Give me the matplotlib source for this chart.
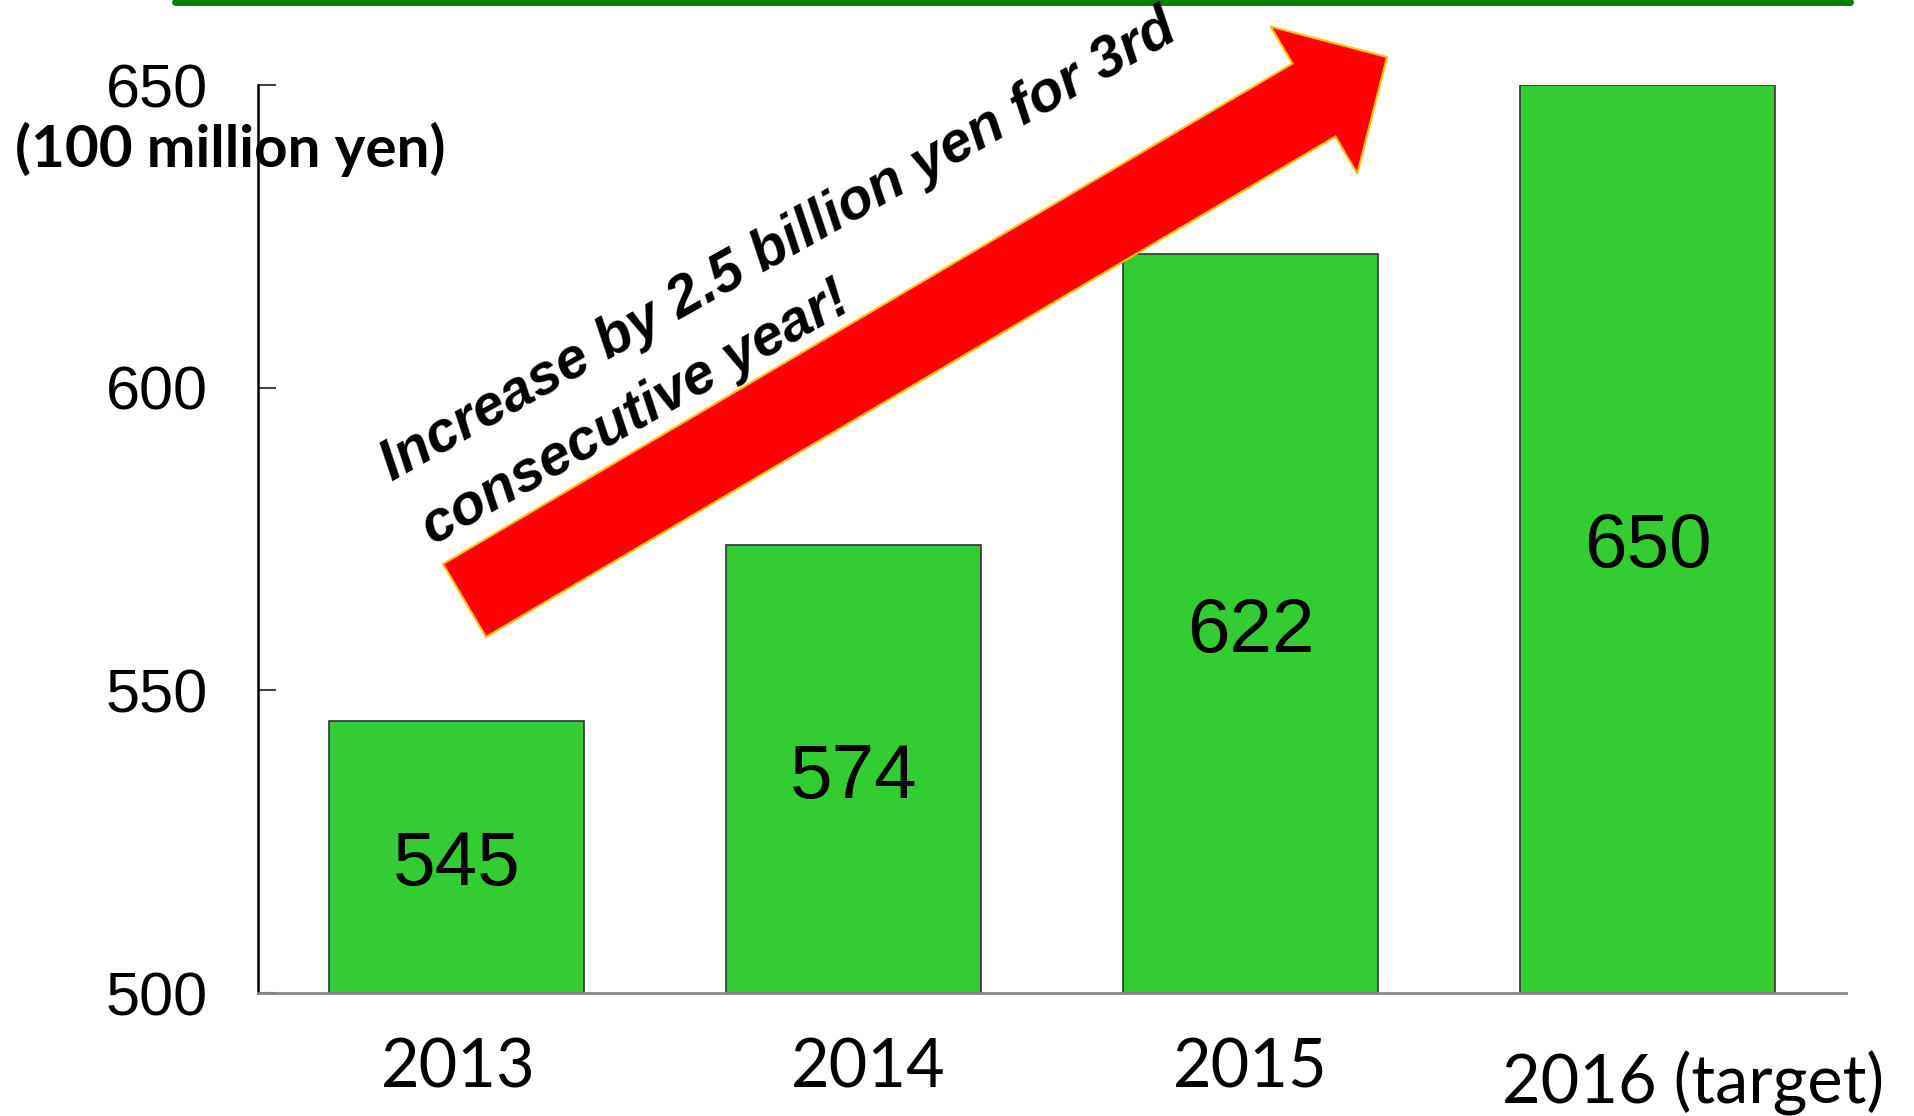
import matplotlib
matplotlib.use("Agg")
import matplotlib.pyplot as plt
from matplotlib.patches import FancyArrow
from matplotlib.lines import Line2D
from matplotlib.transforms import blended_transform_factory

# 데이터
years = ["2013", "2014", "2015", "2016 (target)"]
sales = [545, 574, 622, 650]
y_ticks = [500, 550, 600, 650]
unit_label = "(100 million yen)"
arrow_lines = ["Increase by 2.5 billion yen for 3rd", "consecutive year!"]

# x 라벨 위치 보정 (px)
label_offsets = [(2, 94), (15, 94), (0, 94), (46, 110)]

NARROW = ["Liberation Sans Narrow", "Liberation Sans", "DejaVu Sans"]
DPI = 100

fig = plt.figure(figsize=(19.14, 11.16), dpi=DPI)
ax = fig.add_axes([258 / 1914, 1 - 993 / 1116, (1846 - 258) / 1914, (993 - 85) / 1116])

x = range(len(years))
ax.bar(x, [v - y_ticks[0] for v in sales], bottom=y_ticks[0], width=0.64,
       color="#33CC33", edgecolor="#333333", linewidth=1.2, zorder=2)

ax.set_xlim(-0.5, len(years) - 0.5)
ax.set_ylim(y_ticks[0], y_ticks[-1])

for i, v in enumerate(sales):
    ax.annotate(str(v), xy=(i, (y_ticks[0] + v) / 2), xytext=(0, -9),
                textcoords="offset pixels", ha="center", va="center",
                fontsize=55, family=NARROW, color="black", zorder=3)

# 축 스타일
for side in ("top", "right"):
    ax.spines[side].set_visible(False)
ax.spines["left"].set_color("black")
ax.spines["left"].set_linewidth(1.8)
ax.spines["bottom"].set_color("#888888")
ax.spines["bottom"].set_linewidth(2.0)

ax.set_yticks(y_ticks)
ax.set_yticklabels([str(t) for t in y_ticks], fontsize=44, family=NARROW)
ax.tick_params(axis="y", direction="in", length=13, width=1.5, color="#444444", pad=36)
ax.set_xticks([])

trans = blended_transform_factory(ax.transData, ax.transAxes)
for i, (name, (dx, dy)) in enumerate(zip(years, label_offsets)):
    ax.annotate(name, xy=(i, 0), xycoords=trans, xytext=(dx, -dy),
                textcoords="offset pixels", ha="center", va="baseline",
                fontsize=48, family=["Lato", "DejaVu Sans"], annotation_clip=False)

fig.text(15 / 1914, 1 - 149 / 1116, unit_label, ha="left", va="center",
         fontsize=42, fontweight="bold", family=["Lato", "DejaVu Sans"])

# 상단 녹색 라인
fig.add_artist(Line2D([175 / 1914, 1850 / 1914], [1 - 1.5 / 1116, 1 - 1.5 / 1116],
                      transform=fig.transFigure, color="#008000", linewidth=5,
                      solid_capstyle="round"))

# 화살표 (inch 좌표)
tail = (464.5 / DPI, (1116 - 600.5) / DPI)
tip = (1387 / DPI, (1116 - 57) / DPI)
arrow = FancyArrow(tail[0], tail[1], tip[0] - tail[0], tip[1] - tail[1],
                   width=84.7 / DPI, head_width=170.7 / DPI, head_length=84.8 / DPI,
                   length_includes_head=True, transform=fig.dpi_scale_trans,
                   facecolor="#FF0000", edgecolor="#FFC000", linewidth=1.5, zorder=5)
fig.add_artist(arrow)

text_pos = [(392, 482), (433, 546)]
for line, (px, py) in zip(arrow_lines, text_pos):
    fig.text(px / DPI, (1116 - py) / DPI, line, transform=fig.dpi_scale_trans,
             rotation=29.4, rotation_mode="anchor", ha="left", va="baseline",
             fontsize=41, fontweight="bold", fontstyle="italic",
             family=["Liberation Sans", "DejaVu Sans"], zorder=6)

fig.savefig("out.png", dpi=DPI)
plt.close(fig)
